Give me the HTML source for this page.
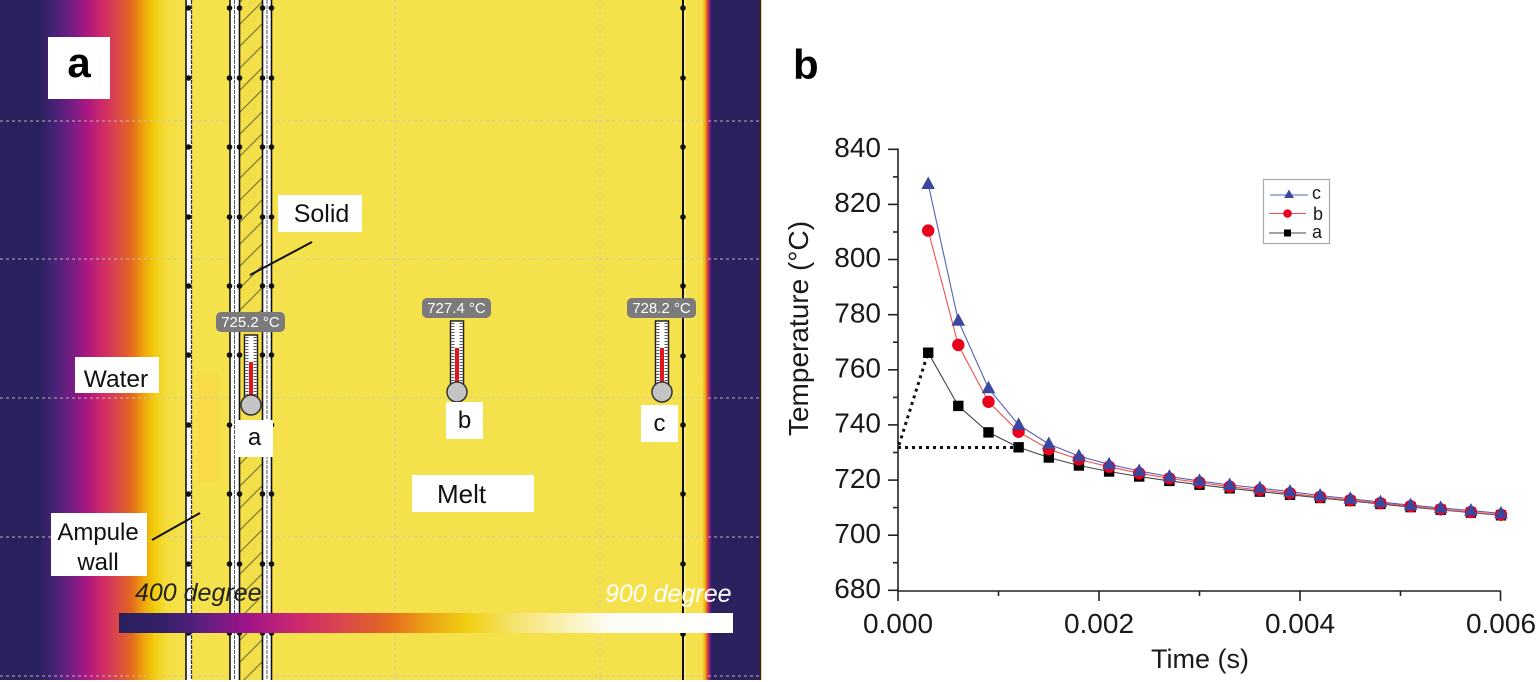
<!DOCTYPE html>
<html>
<head>
<meta charset="utf-8">
<style>
  html,body{margin:0;padding:0;background:#fff;}
  svg{display:block;}
  text{font-family:"Liberation Sans",Arial,sans-serif;}
</style>
</head>
<body>
<svg width="1536" height="682" viewBox="0 0 1536 682" xmlns="http://www.w3.org/2000/svg">
  <defs>
    <linearGradient id="heatL" gradientUnits="userSpaceOnUse" x1="0" y1="0" x2="180" y2="0">
      <stop offset="0" stop-color="#2b215e"/>
      <stop offset="0.23" stop-color="#2c215f"/>
      <stop offset="0.31" stop-color="#4a2278"/>
      <stop offset="0.41" stop-color="#7a1c84"/>
      <stop offset="0.49" stop-color="#ae1780"/>
      <stop offset="0.57" stop-color="#cf2b68"/>
      <stop offset="0.66" stop-color="#dc4a45"/>
      <stop offset="0.73" stop-color="#e3691e"/>
      <stop offset="0.8" stop-color="#eea60c"/>
      <stop offset="0.86" stop-color="#f2cd0c"/>
      <stop offset="0.92" stop-color="#f4dc3a"/>
      <stop offset="1" stop-color="#f5e14b"/>
    </linearGradient>
    <linearGradient id="heatR" gradientUnits="userSpaceOnUse" x1="702" y1="0" x2="712" y2="0">
      <stop offset="0" stop-color="#f5e14b"/>
      <stop offset="0.3" stop-color="#f2b010"/>
      <stop offset="0.5" stop-color="#e3591e"/>
      <stop offset="0.7" stop-color="#b01880"/>
      <stop offset="0.85" stop-color="#4a2278"/>
      <stop offset="1" stop-color="#2b215e"/>
    </linearGradient>
    <linearGradient id="cbar" gradientUnits="userSpaceOnUse" x1="119" y1="0" x2="733" y2="0">
      <stop offset="0" stop-color="#2b215e"/>
      <stop offset="0.075" stop-color="#35206a"/>
      <stop offset="0.13" stop-color="#5a1f80"/>
      <stop offset="0.21" stop-color="#a0148a"/>
      <stop offset="0.295" stop-color="#cf2a6c"/>
      <stop offset="0.37" stop-color="#dc4a4a"/>
      <stop offset="0.44" stop-color="#e36a1e"/>
      <stop offset="0.51" stop-color="#eca814"/>
      <stop offset="0.57" stop-color="#f0d012"/>
      <stop offset="0.64" stop-color="#f4e26a"/>
      <stop offset="0.72" stop-color="#f9f0b0"/>
      <stop offset="0.8" stop-color="#fefdf5"/>
      <stop offset="1" stop-color="#ffffff"/>
    </linearGradient>
    <pattern id="hatch" patternUnits="userSpaceOnUse" width="22" height="22">
      <rect width="22" height="22" fill="#f3df4a"/>
      <line x1="0" y1="22" x2="22" y2="0" stroke="#7d7a36" stroke-width="1.2"/>
      <line x1="-2" y1="2" x2="2" y2="-2" stroke="#7d7a36" stroke-width="1.2"/>
      <line x1="20" y1="24" x2="24" y2="20" stroke="#7d7a36" stroke-width="1.2"/>
    </pattern>
    <polygon id="tri" points="0,-7.5 6.8,5 -6.8,5" fill="#3a48a0"/>
    <circle id="cir" r="6.2" fill="#e8001c"/>
    <rect id="sq" x="-5.2" y="-5.2" width="10.4" height="10.4" fill="#000"/>
  </defs>

  <!-- ============ PANEL A ============ -->
  <rect x="0" y="0" width="762" height="680" fill="#f5e14b"/>
  <rect x="0" y="0" width="180" height="680" fill="url(#heatL)"/>
  <rect x="702" y="0" width="10" height="680" fill="url(#heatR)"/>
  <rect x="712" y="0" width="49" height="680" fill="#2b215e"/>

  <!-- faint rectangle near wall -->
  <rect x="197" y="372" width="21" height="111" fill="#f9d948" opacity="0.8"/>

  <!-- grid -->
  <g stroke="#c9c4b4" stroke-width="1" stroke-dasharray="3 3" fill="none" opacity="0.9">
    <line x1="0" y1="121" x2="761" y2="121"/>
    <line x1="0" y1="259" x2="761" y2="259"/>
    <line x1="0" y1="398" x2="761" y2="398"/>
    <line x1="0" y1="537" x2="761" y2="537"/>
    <line x1="0" y1="676" x2="761" y2="676"/>
    <line x1="395" y1="0" x2="395" y2="680"/>
    <line x1="600" y1="0" x2="600" y2="680"/>
  </g>

  <!-- left ampule wall -->
  <rect x="186" y="0" width="6" height="680" fill="#fff"/>
  <line x1="186" y1="0" x2="186" y2="680" stroke="#111" stroke-width="1.6"/>
  <line x1="191.5" y1="0" x2="191.5" y2="680" stroke="#333" stroke-width="1.3" stroke-dasharray="4 1"/>

  <!-- solid strip -->
  <rect x="240" y="0" width="22" height="680" fill="url(#hatch)"/>
  <rect x="240" y="318" width="22" height="102" fill="#f4df48"/>
  <rect x="230" y="0" width="10" height="680" fill="#fff"/>
  <rect x="262" y="0" width="10" height="680" fill="#fff"/>
  <g stroke="#111" fill="none">
    <line x1="230" y1="0" x2="230" y2="680" stroke-width="1.6"/>
    <line x1="234.5" y1="0" x2="234.5" y2="680" stroke-width="1" stroke="#555" stroke-dasharray="4 1"/>
    <line x1="239.5" y1="0" x2="239.5" y2="680" stroke-width="1.6"/>
    <line x1="262.5" y1="0" x2="262.5" y2="680" stroke-width="1.6"/>
    <line x1="267" y1="0" x2="267" y2="680" stroke-width="1" stroke="#555" stroke-dasharray="4 1"/>
    <line x1="271.5" y1="0" x2="271.5" y2="680" stroke-width="1.6"/>
  </g>

  <!-- right wall -->
  <line x1="683" y1="0" x2="683" y2="680" stroke="#111" stroke-width="2"/>
  <line x1="685" y1="0" x2="685" y2="680" stroke="#fff" stroke-width="1" opacity="0.7"/>

  <!-- wall dots -->
  <g fill="#111">
    <circle cx="188.5" cy="8" r="2.8"/><circle cx="188.5" cy="78" r="2.8"/><circle cx="188.5" cy="147" r="2.8"/><circle cx="188.5" cy="217" r="2.8"/><circle cx="188.5" cy="286" r="2.8"/><circle cx="188.5" cy="355" r="2.8"/><circle cx="188.5" cy="425" r="2.8"/><circle cx="188.5" cy="494" r="2.8"/><circle cx="188.5" cy="564" r="2.8"/><circle cx="188.5" cy="633" r="2.8"/>
    <circle cx="229.5" cy="8" r="2.8"/><circle cx="229.5" cy="78" r="2.8"/><circle cx="229.5" cy="147" r="2.8"/><circle cx="229.5" cy="217" r="2.8"/><circle cx="229.5" cy="286" r="2.8"/><circle cx="229.5" cy="355" r="2.8"/><circle cx="229.5" cy="425" r="2.8"/><circle cx="229.5" cy="494" r="2.8"/><circle cx="229.5" cy="564" r="2.8"/><circle cx="229.5" cy="633" r="2.8"/>
    <circle cx="239.5" cy="8" r="2.8"/><circle cx="239.5" cy="78" r="2.8"/><circle cx="239.5" cy="147" r="2.8"/><circle cx="239.5" cy="217" r="2.8"/><circle cx="239.5" cy="286" r="2.8"/><circle cx="239.5" cy="355" r="2.8"/><circle cx="239.5" cy="494" r="2.8"/><circle cx="239.5" cy="564" r="2.8"/><circle cx="239.5" cy="633" r="2.8"/>
    <circle cx="262.5" cy="8" r="2.8"/><circle cx="262.5" cy="78" r="2.8"/><circle cx="262.5" cy="147" r="2.8"/><circle cx="262.5" cy="217" r="2.8"/><circle cx="262.5" cy="286" r="2.8"/><circle cx="262.5" cy="355" r="2.8"/><circle cx="262.5" cy="494" r="2.8"/><circle cx="262.5" cy="564" r="2.8"/><circle cx="262.5" cy="633" r="2.8"/>
    <circle cx="271.5" cy="8" r="2.8"/><circle cx="271.5" cy="78" r="2.8"/><circle cx="271.5" cy="147" r="2.8"/><circle cx="271.5" cy="217" r="2.8"/><circle cx="271.5" cy="286" r="2.8"/><circle cx="271.5" cy="355" r="2.8"/><circle cx="271.5" cy="425" r="2.8"/><circle cx="271.5" cy="494" r="2.8"/><circle cx="271.5" cy="564" r="2.8"/><circle cx="271.5" cy="633" r="2.8"/>
    <circle cx="683" cy="8" r="2.8"/><circle cx="683" cy="78" r="2.8"/><circle cx="683" cy="147" r="2.8"/><circle cx="683" cy="217" r="2.8"/><circle cx="683" cy="286" r="2.8"/><circle cx="683" cy="356" r="2.8"/><circle cx="683" cy="425" r="2.8"/><circle cx="683" cy="494" r="2.8"/><circle cx="683" cy="564" r="2.8"/><circle cx="683" cy="634" r="2.8"/>
  </g>

  <!-- label "a" panel -->
  <rect x="48" y="37" width="62" height="62" fill="#fff"/>
  <text x="79" y="77" font-size="42" font-weight="bold" text-anchor="middle" fill="#000">a</text>

  <!-- Solid -->
  <rect x="278" y="195" width="84" height="37" fill="#fff"/>
  <text x="321.5" y="222" font-size="25" text-anchor="middle" fill="#111">Solid</text>
  <line x1="312" y1="242" x2="250" y2="275" stroke="#111" stroke-width="2"/>

  <!-- Water -->
  <rect x="75" y="357" width="84" height="36" fill="#fff"/>
  <text x="116" y="387" font-size="24.5" text-anchor="middle" fill="#111">Water</text>

  <!-- Ampule wall -->
  <rect x="51" y="513" width="96" height="63" fill="#fff"/>
  <text x="98" y="540" font-size="24" text-anchor="middle" fill="#111">Ampule</text>
  <text x="98" y="570" font-size="24" text-anchor="middle" fill="#111">wall</text>
  <line x1="152" y1="540" x2="200" y2="513" stroke="#111" stroke-width="2"/>

  <!-- Melt -->
  <rect x="412" y="475" width="122" height="37" fill="#fff"/>
  <text x="437" y="503" font-size="26" fill="#111">Melt</text>

  <!-- thermometer a -->
  <rect x="216" y="312" width="69" height="20" rx="5" fill="#7b7b7b"/>
  <text x="250.5" y="327" font-size="15" text-anchor="middle" fill="#fff">725.2 °C</text>
  <rect x="244.5" y="335" width="13" height="64" fill="#fff" stroke="#222" stroke-width="1.5"/>
  <line x1="247" y1="337" x2="247" y2="396" stroke="#555" stroke-width="3" stroke-dasharray="1 2"/>
  <line x1="255" y1="337" x2="255" y2="396" stroke="#555" stroke-width="3" stroke-dasharray="1 2"/>
  <rect x="249" y="362" width="4" height="35" fill="#e0151b"/>
  <circle cx="251" cy="405" r="10" fill="#c4c4c4" stroke="#333" stroke-width="1.5"/>
  <rect x="236" y="420" width="37" height="37" fill="#fff"/>
  <text x="254.5" y="445" font-size="24" text-anchor="middle" fill="#111">a</text>

  <!-- thermometer b -->
  <rect x="422" y="298" width="69" height="20" rx="5" fill="#7b7b7b"/>
  <text x="456.5" y="313" font-size="15" text-anchor="middle" fill="#fff">727.4 °C</text>
  <rect x="450.5" y="321" width="13" height="66" fill="#fff" stroke="#222" stroke-width="1.5"/>
  <line x1="453" y1="323" x2="453" y2="384" stroke="#555" stroke-width="3" stroke-dasharray="1 2"/>
  <line x1="461" y1="323" x2="461" y2="384" stroke="#555" stroke-width="3" stroke-dasharray="1 2"/>
  <rect x="455" y="348" width="4" height="37" fill="#e0151b"/>
  <circle cx="457" cy="392" r="10" fill="#c4c4c4" stroke="#333" stroke-width="1.5"/>
  <rect x="446" y="402" width="37" height="37" fill="#fff"/>
  <text x="464.5" y="428" font-size="24" text-anchor="middle" fill="#111">b</text>

  <!-- thermometer c -->
  <rect x="627" y="298" width="69" height="20" rx="5" fill="#7b7b7b"/>
  <text x="661.5" y="313" font-size="15" text-anchor="middle" fill="#fff">728.2 °C</text>
  <rect x="655.5" y="321" width="13" height="66" fill="#fff" stroke="#222" stroke-width="1.5"/>
  <line x1="658" y1="323" x2="658" y2="384" stroke="#555" stroke-width="3" stroke-dasharray="1 2"/>
  <line x1="666" y1="323" x2="666" y2="384" stroke="#555" stroke-width="3" stroke-dasharray="1 2"/>
  <rect x="660" y="348" width="4" height="37" fill="#e0151b"/>
  <circle cx="662" cy="392" r="10" fill="#c4c4c4" stroke="#333" stroke-width="1.5"/>
  <rect x="641" y="405" width="37" height="37" fill="#fff"/>
  <text x="659.5" y="431" font-size="24" text-anchor="middle" fill="#111">c</text>

  <!-- colorbar -->
  <rect x="119" y="613" width="614" height="20" fill="url(#cbar)"/>
  <text x="135" y="601" font-size="25" font-style="italic" fill="#222">400 degree</text>
  <text x="605" y="602" font-size="25" font-style="italic" fill="#fff">900 degree</text>

  <!-- ============ PANEL B ============ -->
  <text x="793" y="79" font-size="42" font-weight="bold" fill="#000">b</text>

  <!-- axes -->
  <g stroke="#222" stroke-width="1.6" fill="none">
    <line x1="898" y1="148.5" x2="898" y2="591"/>
    <line x1="897.2" y1="591" x2="1501" y2="591"/>
    <line x1="888" y1="149.3" x2="898" y2="149.3"/>
    <line x1="888" y1="204.4" x2="898" y2="204.4"/>
    <line x1="888" y1="259.5" x2="898" y2="259.5"/>
    <line x1="888" y1="314.7" x2="898" y2="314.7"/>
    <line x1="888" y1="369.8" x2="898" y2="369.8"/>
    <line x1="888" y1="424.9" x2="898" y2="424.9"/>
    <line x1="888" y1="480.1" x2="898" y2="480.1"/>
    <line x1="888" y1="535.2" x2="898" y2="535.2"/>
    <line x1="888" y1="590.3" x2="898" y2="590.3"/>
    <line x1="893" y1="176.9" x2="898" y2="176.9"/>
    <line x1="893" y1="232.0" x2="898" y2="232.0"/>
    <line x1="893" y1="287.1" x2="898" y2="287.1"/>
    <line x1="893" y1="342.2" x2="898" y2="342.2"/>
    <line x1="893" y1="397.4" x2="898" y2="397.4"/>
    <line x1="893" y1="452.5" x2="898" y2="452.5"/>
    <line x1="893" y1="507.6" x2="898" y2="507.6"/>
    <line x1="893" y1="562.7" x2="898" y2="562.7"/>
    <line x1="898" y1="591" x2="898" y2="601"/>
    <line x1="1099" y1="591" x2="1099" y2="601"/>
    <line x1="1300" y1="591" x2="1300" y2="601"/>
    <line x1="1500.5" y1="591" x2="1500.5" y2="601"/>
    <line x1="998.5" y1="591" x2="998.5" y2="596"/>
    <line x1="1199.5" y1="591" x2="1199.5" y2="596"/>
    <line x1="1400.5" y1="591" x2="1400.5" y2="596"/>
  </g>

  <g font-size="28" fill="#1a1a1a" text-anchor="end">
    <text x="881" y="157">840</text>
    <text x="881" y="212.1">820</text>
    <text x="881" y="267.2">800</text>
    <text x="881" y="322.4">780</text>
    <text x="881" y="377.5">760</text>
    <text x="881" y="432.6">740</text>
    <text x="881" y="487.8">720</text>
    <text x="881" y="542.9">700</text>
    <text x="881" y="598">680</text>
  </g>
  <g font-size="28" fill="#1a1a1a" text-anchor="middle">
    <text x="898" y="633">0.000</text>
    <text x="1099" y="633">0.002</text>
    <text x="1300" y="633">0.004</text>
    <text x="1501" y="633">0.006</text>
  </g>
  <text x="1200" y="668" font-size="27" text-anchor="middle" fill="#1a1a1a">Time (s)</text>
  <text x="808" y="328.5" font-size="28" text-anchor="middle" fill="#1a1a1a" transform="rotate(-90 808 328.5)">Temperature (°C)</text>

  <g stroke="#111" stroke-width="3" stroke-dasharray="3 4" fill="none">
    <line x1="898" y1="447.5" x2="1014" y2="447.5"/>
    <line x1="899" y1="445" x2="927" y2="356"/>
  </g>

  <polyline fill="none" stroke="#444" stroke-width="1.1" points="928.2,352.7 958.3,405.9 988.5,432.4 1018.6,447.3 1048.8,457.5 1078.9,465.5 1109.1,471.5 1139.2,476.5 1169.4,480.9 1199.5,484.7 1229.7,488.3 1259.8,491.6 1290.0,494.7 1320.1,498.0 1350.3,501.0 1380.4,504.0 1410.6,507.1 1440.7,509.8 1470.9,512.6 1501.0,515.3"/>
  <polyline fill="none" stroke="#f25050" stroke-width="1.1" points="928.2,230.6 958.3,345.0 988.5,401.8 1018.6,431.8 1048.8,449.2 1078.9,459.4 1109.1,466.8 1139.2,473.2 1169.4,478.4 1199.5,482.5 1229.7,486.7 1259.8,490.0 1290.0,493.3 1320.1,496.9 1350.3,500.2 1380.4,503.2 1410.6,506.2 1440.7,509.3 1470.9,512.0 1501.0,514.8"/>
  <polyline fill="none" stroke="#5560b8" stroke-width="1.1" points="928.2,184.0 958.3,320.7 988.5,388.3 1018.6,424.9 1048.8,444.0 1078.9,456.1 1109.1,464.3 1139.2,471.0 1169.4,476.5 1199.5,480.9 1229.7,485.0 1259.8,488.1 1290.0,491.6 1320.1,495.5 1350.3,498.8 1380.4,502.1 1410.6,505.1 1440.7,507.9 1470.9,510.6 1501.0,513.4"/>

  <g>
    <use href="#sq" x="928.2" y="352.7"/><use href="#sq" x="958.3" y="405.9"/><use href="#sq" x="988.5" y="432.4"/><use href="#sq" x="1018.6" y="447.3"/><use href="#sq" x="1048.8" y="457.5"/><use href="#sq" x="1078.9" y="465.5"/><use href="#sq" x="1109.1" y="471.5"/><use href="#sq" x="1139.2" y="476.5"/><use href="#sq" x="1169.4" y="480.9"/><use href="#sq" x="1199.5" y="484.7"/><use href="#sq" x="1229.7" y="488.3"/><use href="#sq" x="1259.8" y="491.6"/><use href="#sq" x="1290.0" y="494.7"/><use href="#sq" x="1320.1" y="498.0"/><use href="#sq" x="1350.3" y="501.0"/><use href="#sq" x="1380.4" y="504.0"/><use href="#sq" x="1410.6" y="507.1"/><use href="#sq" x="1440.7" y="509.8"/><use href="#sq" x="1470.9" y="512.6"/><use href="#sq" x="1501.0" y="515.3"/>
  </g>
  <g>
    <use href="#cir" x="928.2" y="230.6"/><use href="#cir" x="958.3" y="345.0"/><use href="#cir" x="988.5" y="401.8"/><use href="#cir" x="1018.6" y="431.8"/><use href="#cir" x="1048.8" y="449.2"/><use href="#cir" x="1078.9" y="459.4"/><use href="#cir" x="1109.1" y="466.8"/><use href="#cir" x="1139.2" y="473.2"/><use href="#cir" x="1169.4" y="478.4"/><use href="#cir" x="1199.5" y="482.5"/><use href="#cir" x="1229.7" y="486.7"/><use href="#cir" x="1259.8" y="490.0"/><use href="#cir" x="1290.0" y="493.3"/><use href="#cir" x="1320.1" y="496.9"/><use href="#cir" x="1350.3" y="500.2"/><use href="#cir" x="1380.4" y="503.2"/><use href="#cir" x="1410.6" y="506.2"/><use href="#cir" x="1440.7" y="509.3"/><use href="#cir" x="1470.9" y="512.0"/><use href="#cir" x="1501.0" y="514.8"/>
  </g>
  <g>
    <use href="#tri" x="928.2" y="184.0"/><use href="#tri" x="958.3" y="320.7"/><use href="#tri" x="988.5" y="388.3"/><use href="#tri" x="1018.6" y="424.9"/><use href="#tri" x="1048.8" y="444.0"/><use href="#tri" x="1078.9" y="456.1"/><use href="#tri" x="1109.1" y="464.3"/><use href="#tri" x="1139.2" y="471.0"/><use href="#tri" x="1169.4" y="476.5"/><use href="#tri" x="1199.5" y="480.9"/><use href="#tri" x="1229.7" y="485.0"/><use href="#tri" x="1259.8" y="488.1"/><use href="#tri" x="1290.0" y="491.6"/><use href="#tri" x="1320.1" y="495.5"/><use href="#tri" x="1350.3" y="498.8"/><use href="#tri" x="1380.4" y="502.1"/><use href="#tri" x="1410.6" y="505.1"/><use href="#tri" x="1440.7" y="507.9"/><use href="#tri" x="1470.9" y="510.6"/><use href="#tri" x="1501.0" y="513.4"/>
  </g>

  <rect x="1263.5" y="179.5" width="66" height="64" fill="#fff" stroke="#aaa" stroke-width="1.2"/>
  <line x1="1270" y1="195" x2="1308" y2="195" stroke="#5560b8" stroke-width="1"/>
  <polygon points="1289,189.5 1294,198 1284,198" fill="#3a48a0"/>
  <text x="1312" y="199" font-size="18" fill="#1a1a1a">c</text>
  <line x1="1269" y1="213.5" x2="1306" y2="213.5" stroke="#f25050" stroke-width="1"/>
  <circle cx="1287.5" cy="213.5" r="4.3" fill="#e8001c"/>
  <text x="1313" y="220" font-size="18" fill="#1a1a1a">b</text>
  <line x1="1269" y1="233" x2="1306" y2="233" stroke="#444" stroke-width="1"/>
  <rect x="1284" y="229.5" width="7" height="7" fill="#000"/>
  <text x="1312" y="238" font-size="18" fill="#1a1a1a">a</text>
</svg>
</body>
</html>
